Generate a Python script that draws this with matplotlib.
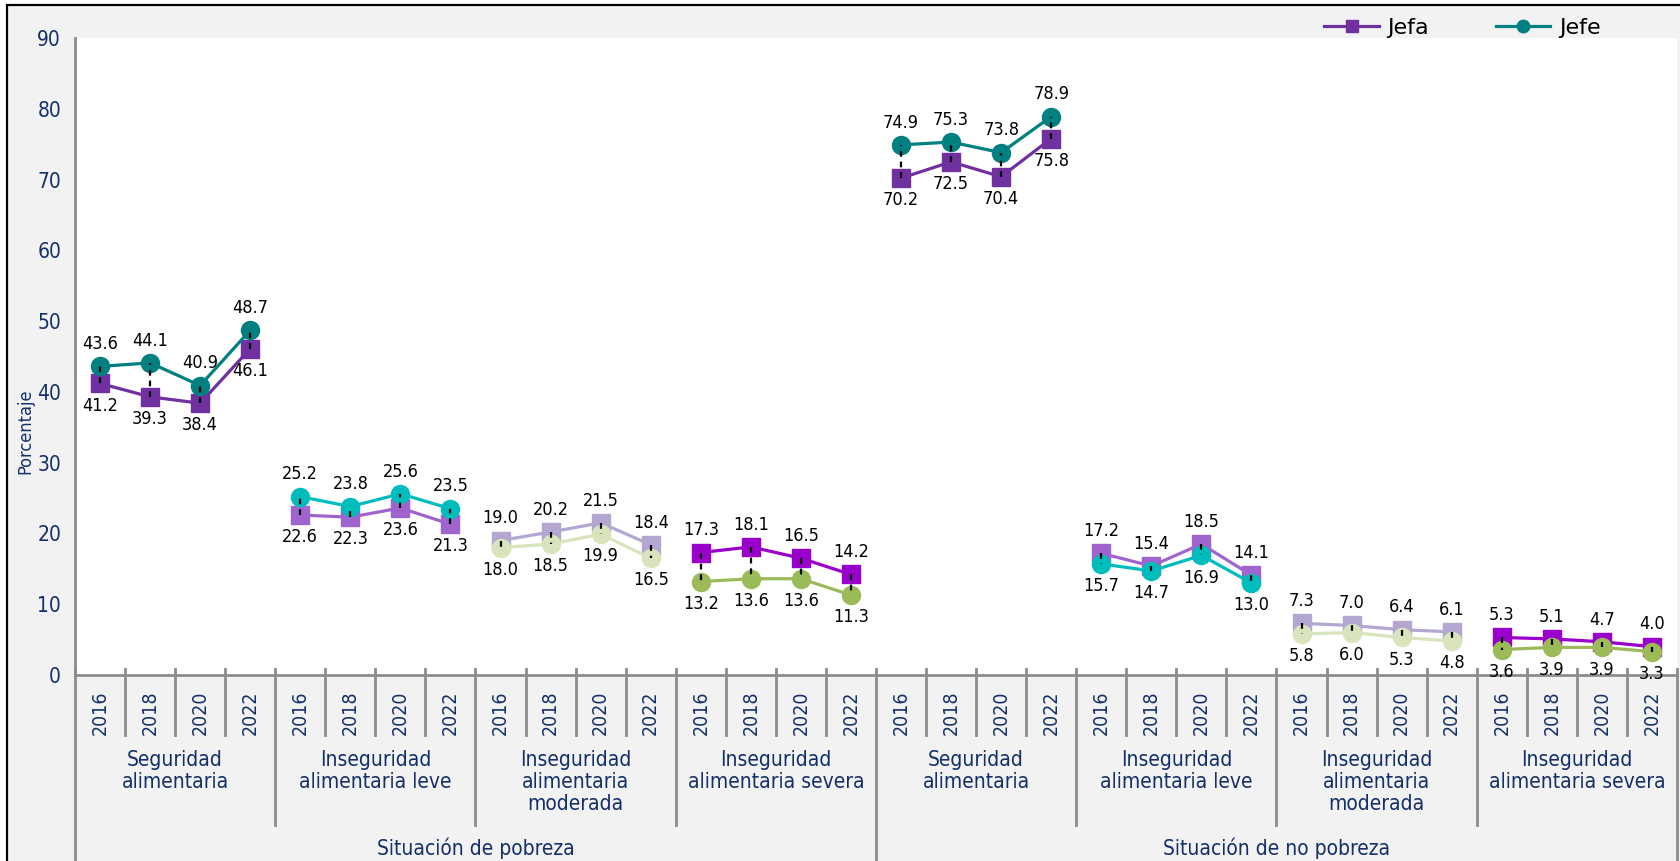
import matplotlib
matplotlib.use("Agg")
import matplotlib.pyplot as plt
from matplotlib.lines import Line2D
from matplotlib.patches import Rectangle
import numpy as np

plt.rcParams["font.family"] = ["DejaVu Sans"]
plt.rcParams["font.stretch"] = "condensed"

years = ["2016", "2018", "2020", "2022"]
categorias = ["Seguridad\nalimentaria", "Inseguridad\nalimentaria leve",
              "Inseguridad\nalimentaria\nmoderada", "Inseguridad\nalimentaria severa"]
situaciones = ["Situación de pobreza", "Situación de no pobreza"]

# Jefa / Jefe por grupo (pobreza: 4 categorias, no pobreza: 4 categorias)
jefa = [[41.2, 39.3, 38.4, 46.1],
        [22.6, 22.3, 23.6, 21.3],
        [19.0, 20.2, 21.5, 18.4],
        [17.3, 18.1, 16.5, 14.2],
        [70.2, 72.5, 70.4, 75.8],
        [17.2, 15.4, 18.5, 14.1],
        [7.3, 7.0, 6.4, 6.1],
        [5.3, 5.1, 4.7, 4.0]]
jefe = [[43.6, 44.1, 40.9, 48.7],
        [25.2, 23.8, 25.6, 23.5],
        [18.0, 18.5, 19.9, 16.5],
        [13.2, 13.6, 13.6, 11.3],
        [74.9, 75.3, 73.8, 78.9],
        [15.7, 14.7, 16.9, 13.0],
        [5.8, 6.0, 5.3, 4.8],
        [3.6, 3.9, 3.9, 3.3]]
# which series gets its label on top in each group
jefe_arriba = [True, True, False, False, True, False, False, False]

col_jefa = ["#7030A0", "#A064CE", "#B3A6D0", "#9A00CC"]
col_jefe = ["#008080", "#00BDBD", "#D8E4BC", "#9BBB59"]
navy = "#14306A"
gris = "#8C8C8C"

W, H = 1681, 861
L, R, T, B = 75, 1677, 38, 675

fig = plt.figure(figsize=(W / 100, H / 100), dpi=100)
fig.patch.set_facecolor("white")
fig.add_artist(Rectangle((7 / W, -0.2), 1.5, 1.2 - 5 / H, transform=fig.transFigure,
                         facecolor="#F2F2F2", edgecolor="black", lw=1.6, zorder=-5))

ax = fig.add_axes([L / W, 1 - B / H, (R - L) / W, (B - T) / H])
ax.set_facecolor("white")
ax.set_xlim(0, 32)
ax.set_ylim(0, 90)
ax.set_yticks(range(0, 91, 10))
ax.set_xticks([])
ax.tick_params(axis="y", length=0, pad=10, labelsize=15, labelcolor=navy)
for s in ["top", "right"]:
    ax.spines[s].set_visible(False)
for s in ["left", "bottom"]:
    ax.spines[s].set_color(gris)
    ax.spines[s].set_linewidth(2)


def yf(py):
    return (B - py) / (B - T)


xt = ax.get_xaxis_transform()

for g in range(8):
    k = g % 4
    x = np.arange(4 * g, 4 * g + 4) + 0.5
    ya = np.array(jefa[g])
    ye = np.array(jefe[g])
    ax.plot(x, ya, marker="s", ms=12.5, lw=2.3, color=col_jefa[k], zorder=3)
    ax.plot(x, ye, marker="o", ms=13, lw=2.3, color=col_jefe[k], zorder=3)
    ax.vlines(x, ya, ye, colors="black", lw=1.6, linestyles=(0, (2.6, 2.2)), zorder=5)
    for xi, a, e in zip(x, ya, ye):
        if jefe_arriba[g]:
            top, bot = e, a
        else:
            top, bot = a, e
        ax.annotate(f"{top:.1f}", (xi, top), xytext=(0, 16), textcoords="offset points",
                    ha="center", va="center", fontsize=13, color="black", zorder=6)
        ax.annotate(f"{bot:.1f}", (xi, bot), xytext=(0, -16), textcoords="offset points",
                    ha="center", va="center", fontsize=13, color="black", zorder=6)

# multi-level category axis
for i in range(32):
    ax.text(i + 0.5, yf(713), years[i % 4], transform=xt, rotation=90, ha="center",
            va="center", fontsize=14, color=navy, clip_on=False)
for i in range(1, 32):
    if i == 16:
        continue
    bottom = 825 if i % 4 == 0 else 735
    ax.plot([i, i], [yf(669), yf(bottom)], transform=xt, color=gris, lw=2, clip_on=False)
for i in [0, 16, 32]:
    ax.plot([i, i], [yf(669), yf(H + 5)], transform=xt, color=gris, lw=2, clip_on=False)

for g in range(8):
    ax.text(4 * g + 2, yf(750), categorias[g % 4], transform=xt, ha="center", va="top",
            fontsize=15, color=navy, linespacing=1.12, clip_on=False)
for j, s in enumerate(situaciones):
    ax.text(16 * j + 8, yf(855), s, transform=xt, ha="center", va="baseline",
            fontsize=15, color=navy, clip_on=False)

fig.text(25 / W, 1 - 431 / H, "Porcentaje", rotation=90, ha="center", va="center",
         fontsize=13, color=navy)

handles = [Line2D([], [], color=col_jefa[0], marker="s", ms=9, lw=2.3),
           Line2D([], [], color=col_jefe[0], marker="o", ms=9, lw=2.3)]
fig.legend(handles, ["Jefa", "Jefe"], ncol=2, frameon=False,
           prop={"size": 16, "stretch": "normal"},
           loc="center right", bbox_to_anchor=(1612 / W, 1 - 28 / H),
           handlelength=2.45, handletextpad=0.4, columnspacing=3.0, borderpad=0)

fig.savefig("out.png", dpi=100)
